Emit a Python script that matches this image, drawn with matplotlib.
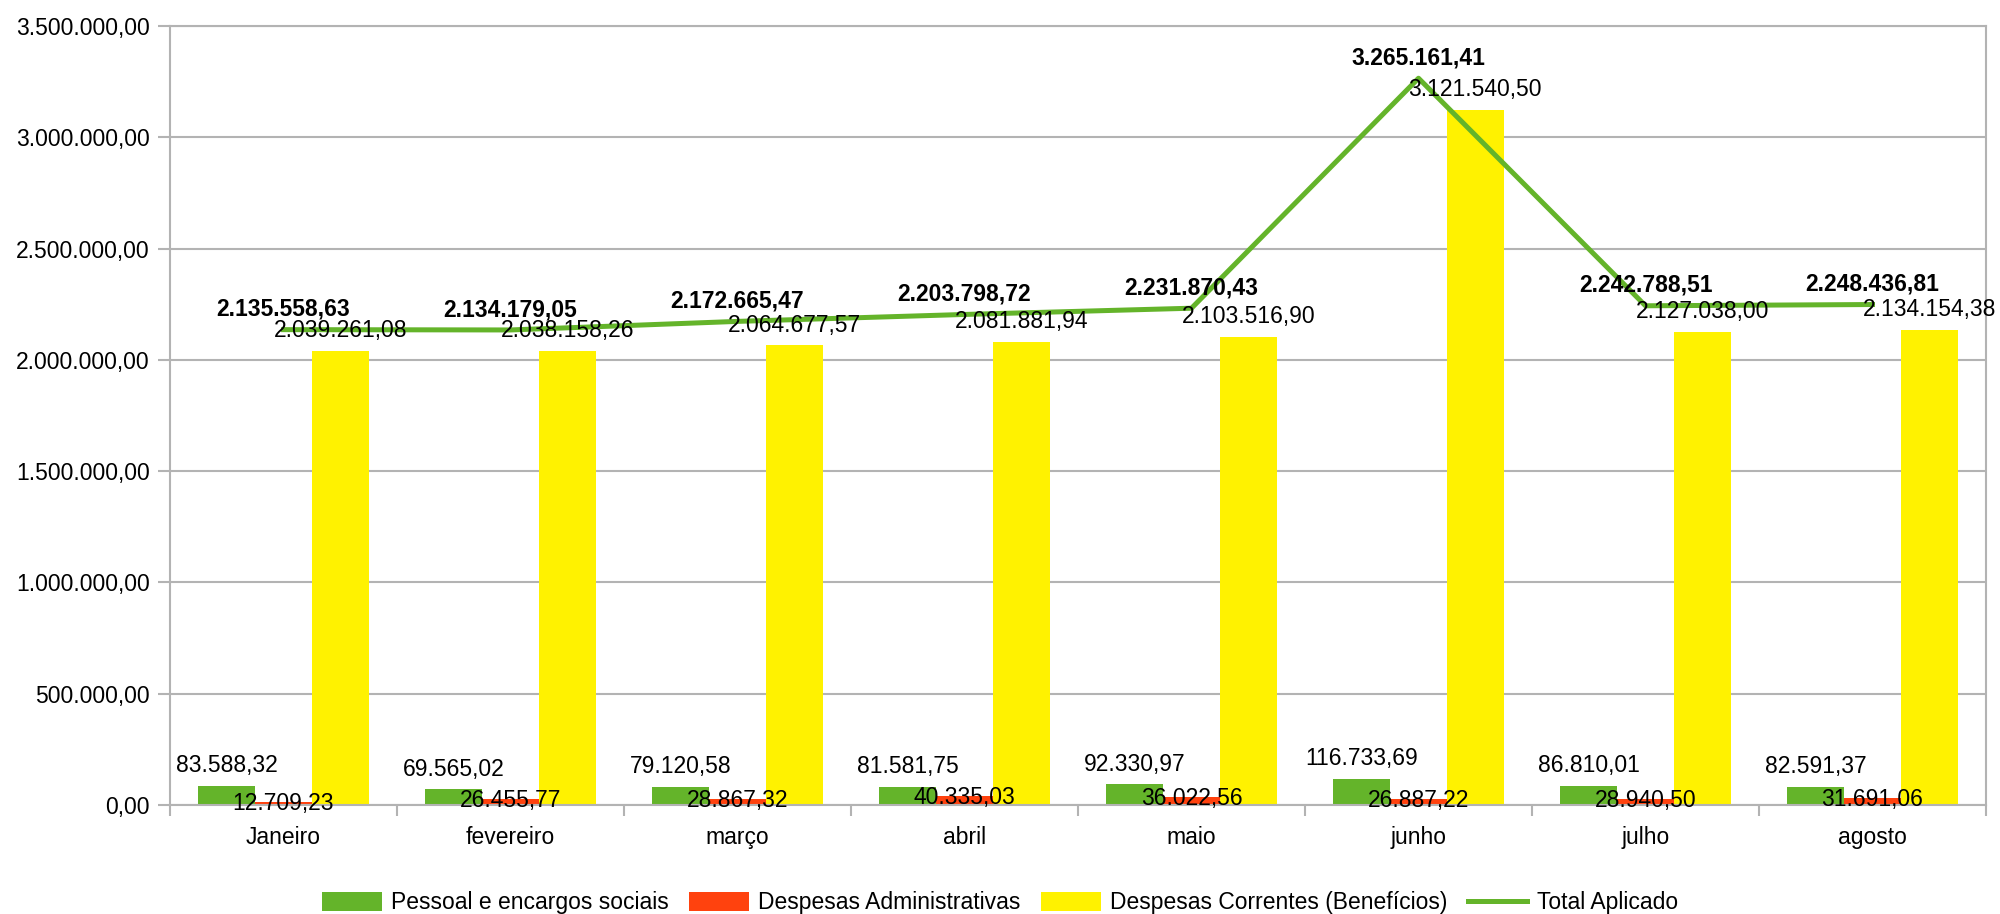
import matplotlib.pyplot as plt
import numpy as np

plt.rcParams['font.family'] = ['Liberation Sans', 'DejaVu Sans']

# valores por mês
meses = ['Janeiro', 'fevereiro', 'março', 'abril', 'maio', 'junho', 'julho', 'agosto']
pessoal = [83588.32, 69565.02, 79120.58, 81581.75, 92330.97, 116733.69, 86810.01, 82591.37]
administrativas = [12709.23, 26455.77, 28867.32, 40335.03, 36022.56, 26887.22, 28940.50, 31691.06]
correntes = [2039261.08, 2038158.26, 2064677.57, 2081881.94, 2103516.90, 3121540.50, 2127038.00, 2134154.38]
total = [2135558.63, 2134179.05, 2172665.47, 2203798.72, 2231870.43, 3265161.41, 2242788.51, 2248436.81]

yticks = np.arange(0, 3500001, 500000)

GREEN = '#64b42a'
RED = '#ff420e'
YELLOW = '#fff200'
GRID = '#b3b3b3'
FS = 16.5


def br(v):
    s = f'{v:,.2f}'
    return s.replace(',', 'X').replace('.', ',').replace('X', '.')


fig = plt.figure(figsize=(20, 9.14), dpi=100)
ax = fig.add_axes([0.085, 0.1193, 0.908, 0.8523])

x = np.arange(len(meses))
w = 0.25
b1 = ax.bar(x - w, pessoal, w, color=GREEN, label='Pessoal e encargos sociais', zorder=2)
b2 = ax.bar(x, administrativas, w, color=RED, label='Despesas Administrativas', zorder=2)
b3 = ax.bar(x + w, correntes, w, color=YELLOW, label='Despesas Correntes (Benefícios)', zorder=2)
ln, = ax.plot(x, total, color=GREEN, lw=3.6, label='Total Aplicado', zorder=3)

for i in range(len(meses)):
    ax.annotate(br(pessoal[i]), (x[i] - w, pessoal[i]), xytext=(0, 10), textcoords='offset points',
                ha='center', va='baseline', fontsize=FS, zorder=4)
    ax.annotate(br(administrativas[i]), (x[i], administrativas[i]), xytext=(0, -6), textcoords='offset points',
                ha='center', va='baseline', fontsize=FS, zorder=4)
    ax.annotate(br(correntes[i]), (x[i] + w, correntes[i]), xytext=(0, 10), textcoords='offset points',
                ha='center', va='baseline', fontsize=FS, zorder=4)
    ax.annotate(br(total[i]), (x[i], total[i]), xytext=(0, 10), textcoords='offset points',
                ha='center', va='baseline', fontsize=FS, fontweight='bold', zorder=4)

ax.set_xlim(-0.5, len(meses) - 0.5)
ax.set_ylim(0, 3500000)
ax.set_yticks(yticks)
ax.set_yticklabels([br(v) for v in yticks], fontsize=FS)
ax.yaxis.grid(True, color=GRID, lw=1.5, zorder=0)
ax.set_axisbelow(True)

ax.set_xticks(x)
ax.set_xticklabels(meses, fontsize=FS)
ax.set_xticks(np.arange(-0.5, len(meses), 1), minor=True)
ax.tick_params(axis='x', which='major', length=0, pad=15)
ax.tick_params(axis='x', which='minor', length=8, width=1.5, color=GRID)
ax.tick_params(axis='y', length=9, width=1.5, color=GRID, pad=5.5)

for sp in ax.spines.values():
    sp.set_color(GRID)
    sp.set_linewidth(1.5)

fig.legend(handles=[b1, b2, b3, ln], loc='center', bbox_to_anchor=(0.5, 11 / 914), ncol=4,
           frameon=False, fontsize=FS, handlelength=2.6, handleheight=0.9,
           handletextpad=0.4, columnspacing=0.9, borderpad=0)

fig.savefig('out.png', dpi=100)
